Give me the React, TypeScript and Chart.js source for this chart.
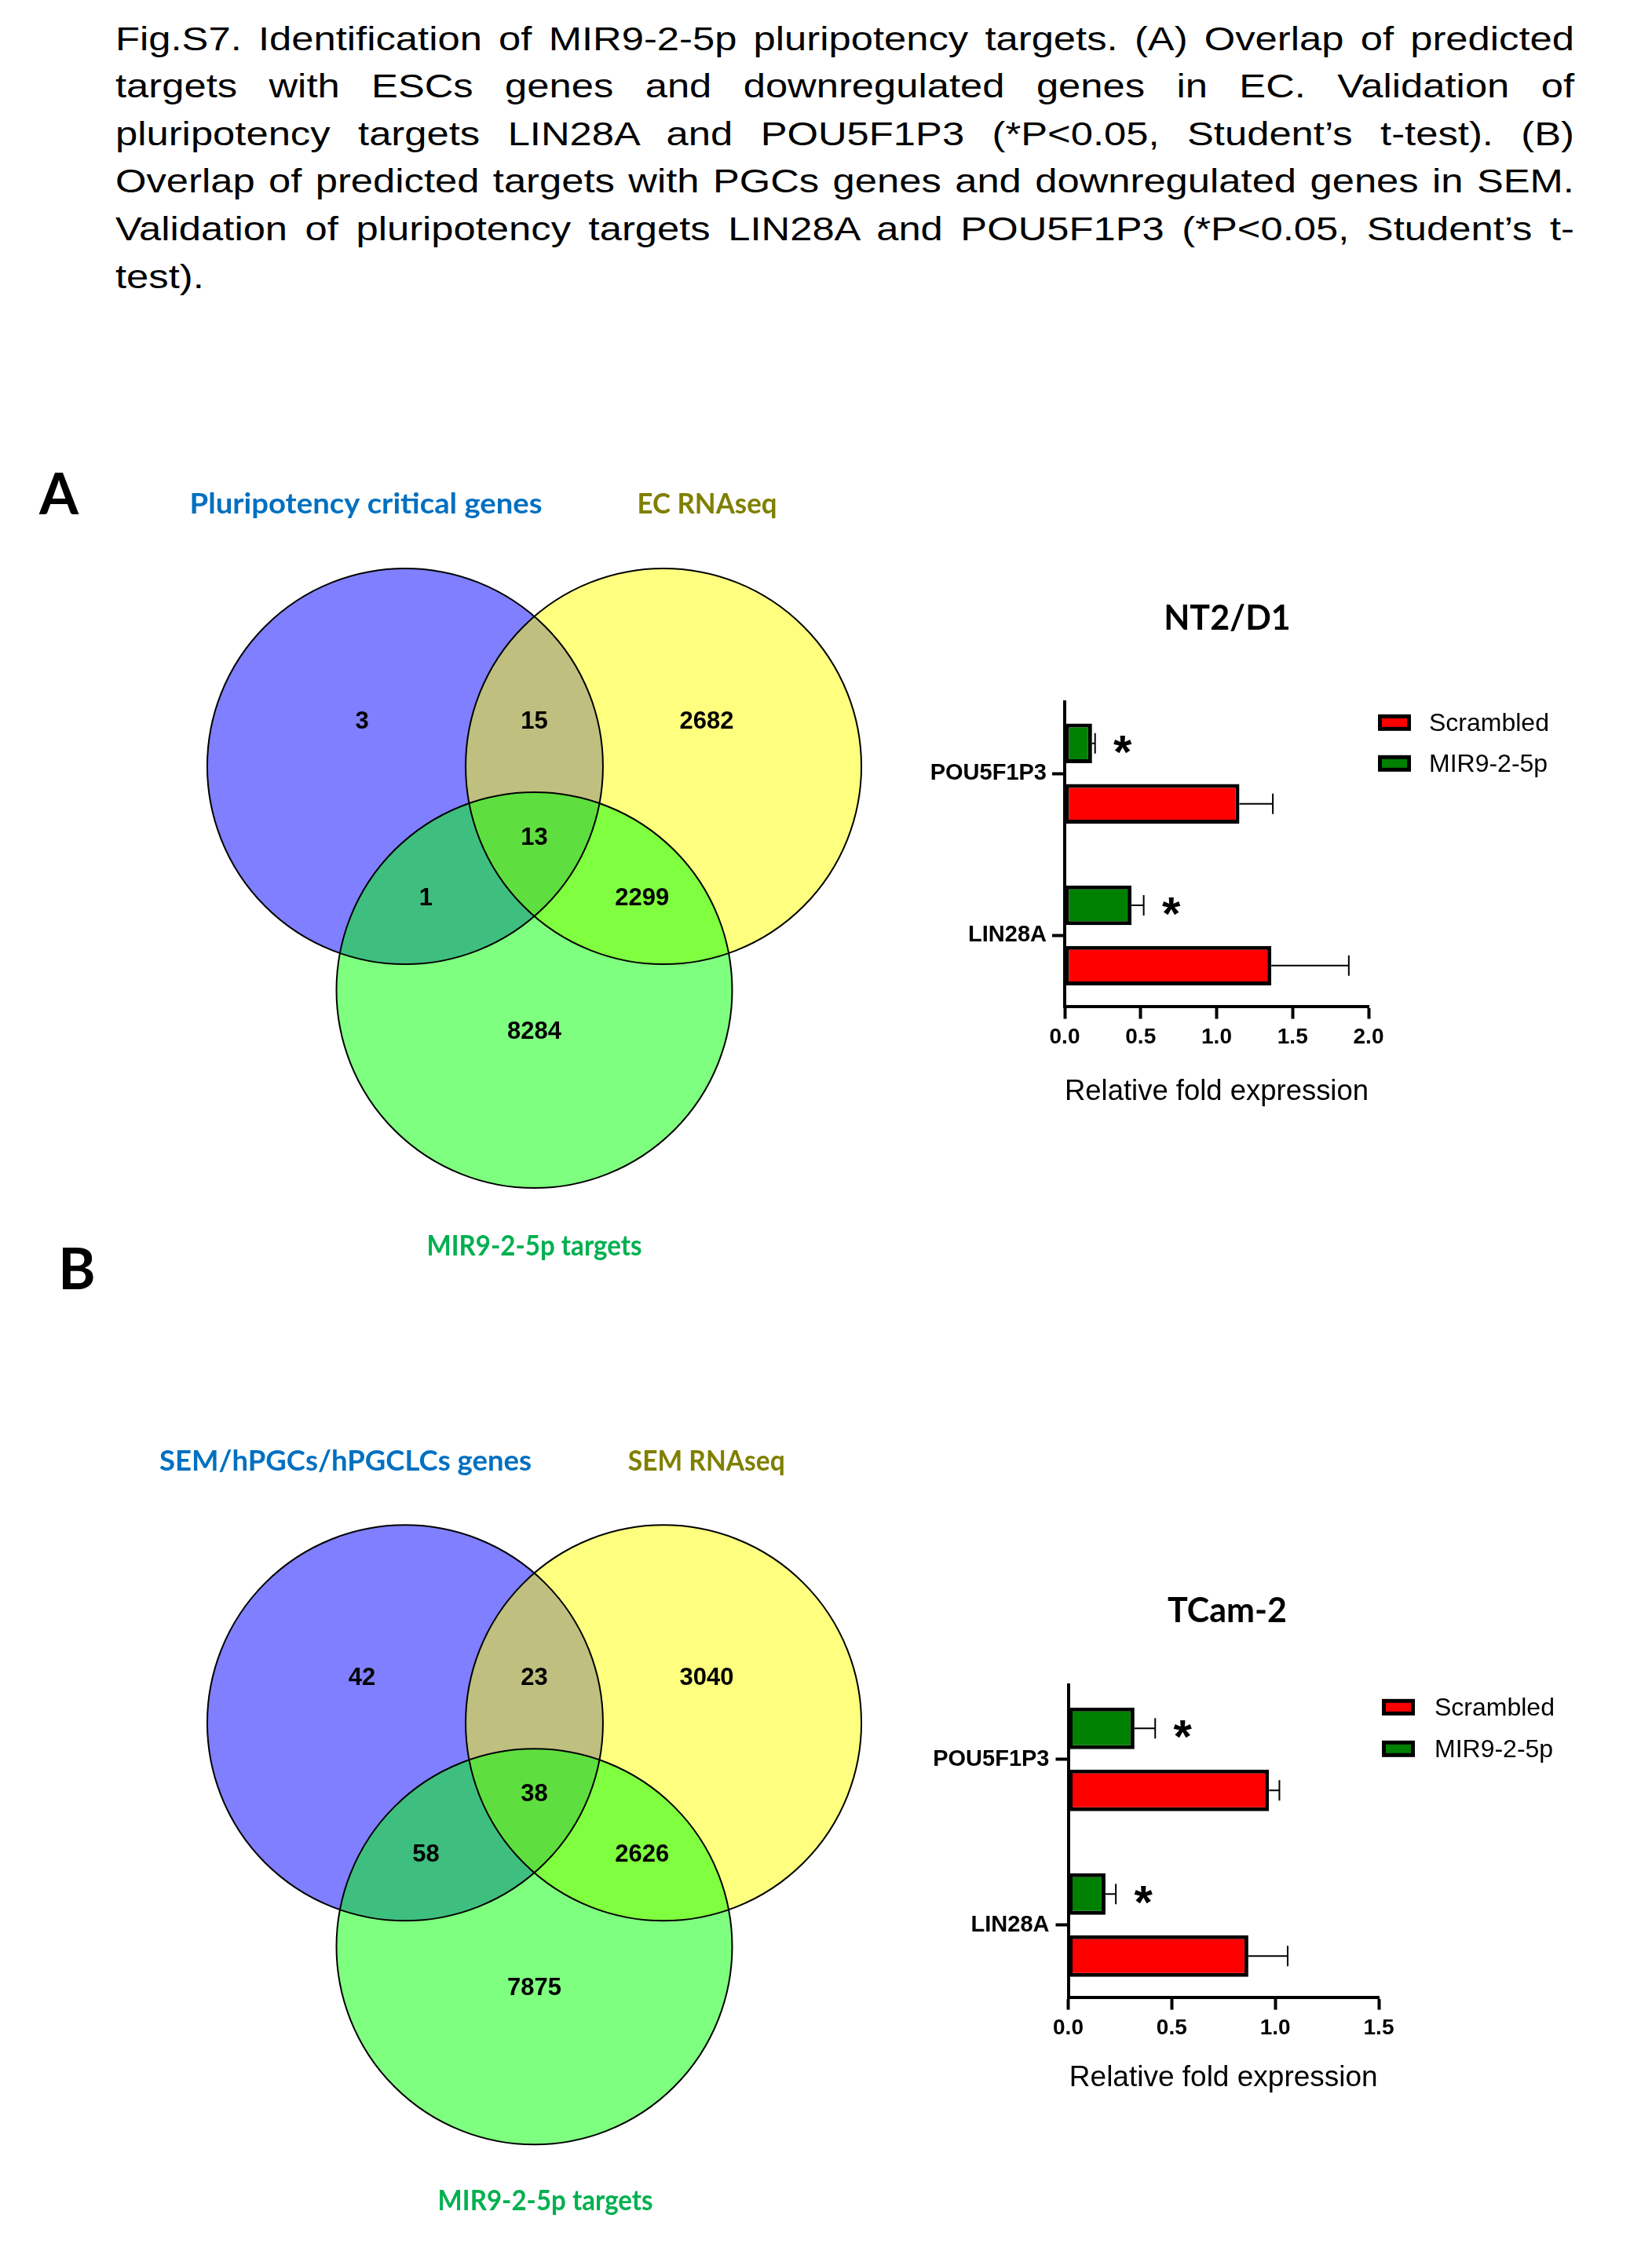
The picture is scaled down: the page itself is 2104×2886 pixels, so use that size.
import React, { useEffect, useRef } from 'react';
import { Chart, registerables } from 'chart.js';

Chart.register(...registerables);

const ARIAL = '"Liberation Sans", Arial, sans-serif';
const CALIBRI_LIKE = 'Lato, "Open Sans", sans-serif';

// ---------------- caption ----------------
const captionLines = [
  'Fig.S7. Identification of MIR9-2-5p pluripotency targets.  (A) Overlap of predicted',
  'targets with ESCs genes and downregulated genes in EC.  Validation of',
  'pluripotency targets LIN28A and POU5F1P3 (*P<0.05, Student\u2019s t-test). (B)',
  'Overlap of predicted targets with PGCs genes and downregulated genes in SEM.',
  'Validation of pluripotency targets LIN28A and POU5F1P3 (*P<0.05, Student\u2019s t-',
  'test).',
];

// ---------------- Venn data ----------------
// region order: only set1, set1∩set2, only set2, all three, set1∩set3, set2∩set3, only set3
const vennASetNames = ['Pluripotency critical genes', 'EC RNAseq', 'MIR9-2-5p targets'];
const vennACounts = [3, 15, 2682, 13, 1, 2299, 8284];
const vennBSetNames = ['SEM/hPGCs/hPGCLCs genes', 'SEM RNAseq', 'MIR9-2-5p targets'];
const vennBCounts = [42, 23, 3040, 38, 58, 2626, 7875];

// ---------------- bar data ----------------
const genes = ['POU5F1P3', 'LIN28A'];
const seriesNames = ['Scrambled', 'MIR9-2-5p'];
const nt2Scrambled = [1.15, 1.36];
const nt2ScrambledSem = [0.22, 0.51];
const nt2Mir = [0.18, 0.44];
const nt2MirSem = [0.02, 0.08];
const nt2Significant = [true, true];
const nt2Ticks = [0, 0.5, 1.0, 1.5, 2.0];
const tcamScrambled = [0.97, 0.87];
const tcamScrambledSem = [0.05, 0.19];
const tcamMir = [0.32, 0.18];
const tcamMirSem = [0.1, 0.05];
const tcamSignificant = [true, true];
const tcamTicks = [0, 0.5, 1.0, 1.5];

// ---------------- Venn layout (unit-circle coordinates) ----------------
const VENN_CIRCLES = [[-0.653, 0], [0.653, 0], [0, -1.131]];
const VENN_REGION_POS = [
  [-0.871, 0.226], [0, 0.226], [0.871, 0.226], [0, -0.361],
  [-0.548, -0.667], [0.545, -0.667], [0, -1.343],
];
const VENN_FILLS = ['rgba(0,0,255,0.5)', 'rgba(255,255,0,0.5)', 'rgba(0,255,0,0.5)'];
const VENN_NAME_COLORS = ['#0070C0', '#7F7F00', '#00B050'];

function VennChart(props: any) {
  const ref = useRef<HTMLCanvasElement>(null);
  useEffect(() => {
    const { width, height, cx, cy, rPx, counts, names, namePos, nameWidths } = props;
    const xMin = -cx / rPx, xMax = (width - cx) / rPx;
    const yMax = cy / rPx, yMin = -(height - cy) / rPx;
    const unitRadius = (c: any) => {
      const s = c.chart.scales.x;
      return Math.abs(s.getPixelForValue(1) - s.getPixelForValue(0));
    };
    const textPlugin = {
      id: 'vennText',
      afterDatasetsDraw(chart: any) {
        const { ctx } = chart;
        const sx = chart.scales.x, sy = chart.scales.y;
        ctx.save();
        const ds: any = chart.data.datasets[0];
        const meta = chart.getDatasetMeta(0);
        ctx.fillStyle = '#000';
        ctx.font = `bold 31px ${ARIAL}`;
        ctx.textAlign = 'center';
        ctx.textBaseline = 'middle';
        meta.data.forEach((pt: any, i: number) => ctx.fillText(String(ds.counts[i]), pt.x, pt.y));
        ctx.font = `bold 36px ${CALIBRI_LIKE}`;
        names.forEach((n: string, i: number) => {
          const px = sx.getPixelForValue(namePos[i][0]);
          const py = sy.getPixelForValue(namePos[i][1]);
          const w = ctx.measureText(n).width;
          const k = nameWidths[i] / w;
          ctx.save();
          ctx.translate(px, py);
          ctx.scale(k, 1);
          ctx.fillStyle = VENN_NAME_COLORS[i];
          ctx.fillText(n, 0, 0);
          ctx.restore();
        });
        ctx.restore();
      },
    };
    const chart = new Chart(ref.current as HTMLCanvasElement, {
      type: 'scatter',
      data: {
        datasets: [
          {
            label: 'Region counts',
            data: VENN_REGION_POS.map(([x, y]) => ({ x, y })),
            pointRadius: 0,
            counts,
            order: 0,
          } as any,
          {
            label: 'Outlines',
            data: VENN_CIRCLES.map(([x, y]) => ({ x, y })),
            pointBackgroundColor: 'rgba(0,0,0,0)',
            pointBorderColor: '#000',
            pointBorderWidth: 2,
            pointRadius: unitRadius,
            order: 1,
          } as any,
          {
            label: 'Sets',
            data: VENN_CIRCLES.map(([x, y]) => ({ x, y })),
            pointBackgroundColor: VENN_FILLS,
            pointBorderWidth: 0,
            pointRadius: unitRadius,
            order: 2,
          } as any,
        ],
      },
      options: {
        responsive: false,
        animation: false,
        events: [],
        devicePixelRatio: 1,
        showLine: false,
        layout: { padding: 0 },
        plugins: { legend: { display: false }, tooltip: { enabled: false } },
        scales: {
          x: { type: 'linear', display: false, min: xMin, max: xMax },
          y: { type: 'linear', display: false, min: yMin, max: yMax },
        },
      } as any,
      plugins: [textPlugin],
    });
    return () => chart.destroy();
  }, []);
  return (
    <canvas
      ref={ref}
      width={props.width}
      height={props.height}
      style={{ position: 'absolute', left: props.left, top: props.top, width: props.width, height: props.height }}
    />
  );
}

function BarPanel(p: any) {
  const ref = useRef<HTMLCanvasElement>(null);
  useEffect(() => {
    const common = {
      borderColor: '#000',
      borderWidth: 5,
      borderSkipped: false,
      categoryPercentage: p.catPct,
      barPercentage: p.barPct,
      xAxisID: 'x',
      yAxisID: 'y',
    };
    const datasets: any[] = [
      { label: seriesNames[1], data: genes.map((_, i) => ({ x: p.mir[i], y: i })), backgroundColor: '#008000', errors: p.mirSem, sig: p.sig, ...common },
      { label: seriesNames[0], data: genes.map((_, i) => ({ x: p.scr[i], y: i })), backgroundColor: '#FF0000', errors: p.scrSem, sig: null, ...common },
    ];
    const errorPlugin = {
      id: 'errorBars',
      afterDatasetsDraw(chart: any) {
        const { ctx } = chart;
        const xs = chart.scales.x;
        chart.data.datasets.forEach((ds: any, di: number) => {
          const meta = chart.getDatasetMeta(di);
          meta.data.forEach((bar: any, i: number) => {
            const v = ds.data[i].x;
            const x0 = xs.getPixelForValue(v);
            const x1 = xs.getPixelForValue(v + ds.errors[i]);
            const y = bar.y;
            ctx.save();
            ctx.strokeStyle = '#000';
            ctx.lineWidth = 2;
            ctx.beginPath();
            ctx.moveTo(x0, y);
            ctx.lineTo(x1, y);
            ctx.moveTo(x1, y - 13);
            ctx.lineTo(x1, y + 13);
            ctx.stroke();
            if (ds.sig && ds.sig[i]) {
              ctx.fillStyle = '#000';
              ctx.font = `bold 60px ${ARIAL}`;
              ctx.textAlign = 'center';
              ctx.textBaseline = 'alphabetic';
              ctx.fillText('*', x1 + 35, y - 3 + 34);
            }
            ctx.restore();
          });
        });
      },
    };
    const legendPlugin = {
      id: 'boxLegend',
      afterDraw(chart: any) {
        const { ctx, chartArea } = chart;
        const items = [...chart.data.datasets].reverse();
        items.forEach((ds: any, k: number) => {
          const bx = chartArea.right + p.legDx;
          const by = chartArea.top + p.legDy + k * p.legGap;
          ctx.save();
          ctx.fillStyle = '#000';
          ctx.fillRect(bx, by, 42, 21);
          ctx.fillStyle = ds.backgroundColor;
          ctx.fillRect(bx + 5, by + 5, 32, 11);
          ctx.fillStyle = '#000';
          ctx.font = `32px ${ARIAL}`;
          ctx.textAlign = 'left';
          ctx.textBaseline = 'alphabetic';
          ctx.fillText(ds.label, bx + p.legTextDx, by + 21);
          ctx.restore();
        });
      },
    };
    const gridOpts = { offset: false, drawOnChartArea: false, drawTicks: true, tickLength: 16, tickWidth: 4, tickColor: '#000' };
    const borderOpts = { display: true, color: '#000', width: 4 };
    const chart = new Chart(ref.current as HTMLCanvasElement, {
      type: 'bar',
      data: { datasets },
      options: {
        indexAxis: 'y',
        responsive: false,
        animation: false,
        events: [],
        devicePixelRatio: 1,
        layout: { padding: { left: 0, right: 0, top: 0, bottom: p.padBottom } },
        plugins: {
          legend: { display: false },
          tooltip: { enabled: false },
          title: {
            display: true,
            text: p.title,
            color: '#000',
            font: { family: CALIBRI_LIKE, weight: 'bold', size: 43, lineHeight: 1.2 },
            padding: { top: p.titleTop, bottom: p.titleBottom },
          },
        },
        scales: {
          x: {
            type: 'linear',
            position: 'bottom',
            offset: false,
            min: 0,
            max: p.ticks[p.ticks.length - 1],
            afterBuildTicks: (s: any) => { s.ticks = p.ticks.map((v: number) => ({ value: v })); },
            afterFit: (s: any) => { s.height = p.xAxisHeight; },
            ticks: {
              color: '#000',
              font: { family: ARIAL, weight: 'bold', size: 28 },
              padding: 7,
              maxRotation: 0,
              autoSkip: false,
              callback: (v: any) => Number(v).toFixed(1),
            },
            grid: gridOpts,
            border: borderOpts,
            title: {
              display: true,
              text: 'Relative fold expression',
              color: '#000',
              font: { family: ARIAL, size: 37, lineHeight: 1.2 },
              padding: 0,
            },
          },
          y: {
            type: 'linear',
            position: 'left',
            reverse: true,
            offset: false,
            min: p.yMin,
            max: p.yMax,
            afterBuildTicks: (s: any) => { s.ticks = genes.map((_, i) => ({ value: i })); },
            afterFit: (s: any) => { s.width = p.yAxisWidth; },
            ticks: {
              color: '#000',
              font: { family: ARIAL, weight: 'bold', size: 29 },
              padding: p.yTickPad,
              autoSkip: false,
              callback: (v: any) => genes[v] ?? '',
            },
            grid: gridOpts,
            border: borderOpts,
          },
          legendSpace: {
            type: 'linear',
            axis: 'y',
            position: 'right',
            display: true,
            grid: { display: false, drawTicks: false },
            ticks: { display: false },
            border: { display: false },
            afterFit: (s: any) => { s.width = p.rightSpace; },
          },
        },
      } as any,
      plugins: [errorPlugin, legendPlugin],
    });
    return () => chart.destroy();
  }, []);
  return (
    <canvas
      ref={ref}
      width={p.width}
      height={p.height}
      style={{ position: 'absolute', left: p.left, top: p.top, width: p.width, height: p.height }}
    />
  );
}

const CAP_FONT = 43;
const CAP_STRETCH = 1.18;

export default function App() {
  return (
    <div style={{ position: 'absolute', left: 0, top: 0, width: 2104, height: 2886, background: '#fff', overflow: 'hidden' }}>
      {captionLines.map((t, i) => {
        const last = i === captionLines.length - 1;
        return (
          <div
            key={i}
            style={{
              position: 'absolute',
              left: 147,
              top: 64 + 60.6 * i - 36.4,
              width: 1858 / CAP_STRETCH,
              fontFamily: ARIAL,
              fontSize: CAP_FONT,
              lineHeight: `${CAP_FONT}px`,
              color: '#000',
              textAlign: last ? 'left' : 'justify',
              textAlignLast: last ? 'left' : 'justify',
              transform: `scaleX(${CAP_STRETCH})`,
              transformOrigin: 'left top',
            } as any}
          >
            {t}
          </div>
        );
      })}

      <VennChart
        left={0} top={560} width={1150} height={1080} cx={680.5} cy={416} rPx={252}
        counts={vennACounts} names={vennASetNames}
        namePos={[[-0.851, 1.325], [0.873, 1.325], [0, -2.425]]}
        nameWidths={[449, 178, 274]}
      />
      <VennChart
        left={0} top={1780} width={1150} height={1080} cx={680.5} cy={414.3} rPx={252}
        counts={vennBCounts} names={vennBSetNames}
        namePos={[[-0.954, 1.321], [0.870, 1.321], [0.056, -2.418]]}
        nameWidths={[474, 200, 274]}
      />

      <BarPanel
        left={1100} top={740} width={926} height={700} title="NT2/D1"
        titleTop={22} titleBottom={80.2} rightSpace={283} padBottom={27.4}
        xAxisHeight={131} yAxisWidth={256} yTickPad={7}
        yMin={-0.4436} yMax={1.4376} catPct={0.7467} barPct={0.656}
        ticks={nt2Ticks} scr={nt2Scrambled} scrSem={nt2ScrambledSem}
        mir={nt2Mir} mirSem={nt2MirSem} sig={nt2Significant}
        legDx={12} legDy={16} legTextDx={65} legGap={52}
      />
      <BarPanel
        left={1100} top={2000} width={926} height={700} title="TCam-2"
        titleTop={26} titleBottom={68.2} rightSpace={270} padBottom={31.4}
        xAxisHeight={125} yAxisWidth={260.5} yTickPad={8}
        yMin={-0.4502} yMax={1.436} catPct={0.749} barPct={0.671}
        ticks={tcamTicks} scr={tcamScrambled} scrSem={tcamScrambledSem}
        mir={tcamMir} mirSem={tcamMirSem} sig={tcamSignificant}
        legDx={4} legDy={18} legTextDx={67} legGap={53}
      />

      <div style={{ position: 'absolute', left: 25, top: 591, width: 100, textAlign: 'center', fontFamily: CALIBRI_LIKE, fontWeight: 700, fontSize: 72, lineHeight: '72px', color: '#000' }}>A</div>
      <div style={{ position: 'absolute', left: 48, top: 1578, width: 100, textAlign: 'center', fontFamily: CALIBRI_LIKE, fontWeight: 700, fontSize: 72, lineHeight: '72px', color: '#000' }}>B</div>
    </div>
  );
}
